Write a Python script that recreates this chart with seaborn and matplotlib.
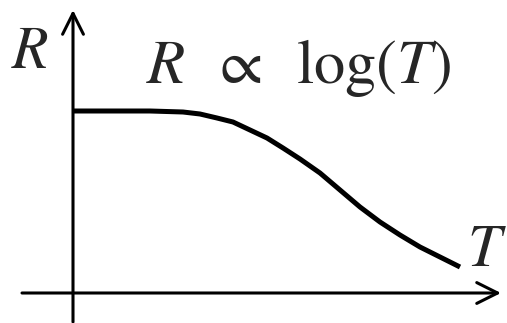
import matplotlib
matplotlib.use("Agg")
import matplotlib.pyplot as plt
import seaborn as sns
import pandas as pd

# schematic curve (pixel-like units, y grows downward)
curve_x = [73, 110, 150, 183, 200, 217, 233, 250, 267, 283, 300,
           320, 340, 360, 380, 400, 420, 440, 460]
curve_y = [111, 111, 111, 112, 114, 118, 122, 130, 138, 148, 159,
           173, 190, 207, 222, 235, 247, 257, 267]

# axis lines
y_axis = {"x": 73, "bottom": 322, "top": 10}
x_axis = {"y": 293, "left": 22, "right": 501}

labels = {
    "R": (30, 52),
    "T": (487, 250),
}
title_text = r"$R\;\;\propto\;\;\log(T)$"

sns.set_theme(style="white")
plt.rcParams["mathtext.fontset"] = "stix"

fig = plt.figure(figsize=(5.07, 3.23), dpi=100)
ax = fig.add_axes([0, 0, 1, 1])
ax.set_xlim(0, 507)
ax.set_ylim(323, 0)
ax.axis("off")

df = pd.DataFrame({"T": curve_x, "R": curve_y})
sns.lineplot(data=df, x="T", y="R", ax=ax, color="black", linewidth=3.6,
             solid_capstyle="butt", solid_joinstyle="round")

arrow = dict(arrowstyle="->,head_length=1.0,head_width=0.5", color="black",
             linewidth=2.2, mutation_scale=15, shrinkA=0, shrinkB=0)
ax.annotate("", xy=(y_axis["x"], y_axis["top"]),
            xytext=(y_axis["x"], y_axis["bottom"]), arrowprops=arrow)
ax.annotate("", xy=(x_axis["right"], x_axis["y"]),
            xytext=(x_axis["left"], x_axis["y"]), arrowprops=arrow)

ax.text(*labels["R"], r"$R$", fontsize=43, ha="center", va="center")
ax.text(*labels["T"], r"$T$", fontsize=43, ha="center", va="center")
ax.text(299, 83, title_text, fontsize=45, ha="center", va="baseline")

fig.savefig("out.png", dpi=100)
